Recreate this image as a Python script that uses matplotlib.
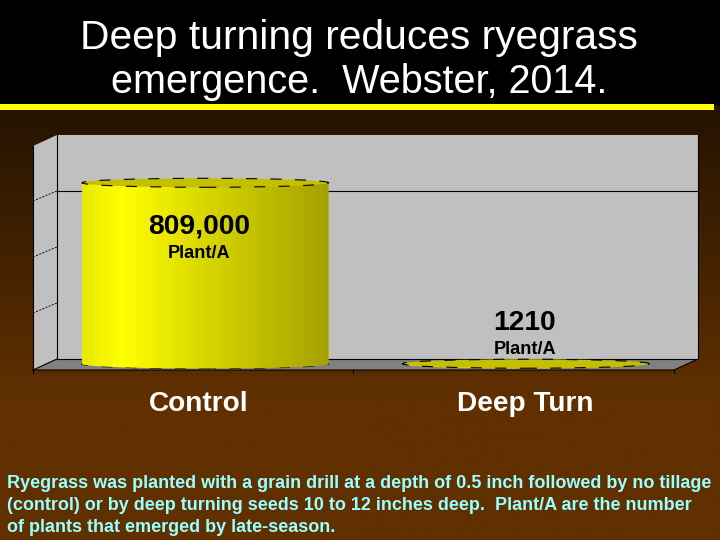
import numpy as np
import matplotlib
matplotlib.use("Agg")
import matplotlib.pyplot as plt
from matplotlib.patches import Ellipse, Polygon
from matplotlib.transforms import ScaledTranslation

categories = ["Control", "Deep Turn"]
plants = [809000, 1210]
value_labels = ["809,000", "1210"]
unit = "Plant/A"
y_ticks = [250000, 500000, 750000]
wall_lines = [750000]
y_max = 1000000

title = "Deep turning reduces ryegrass\nemergence.  Webster, 2014."
note = ("Ryegrass was planted with a grain drill at a depth of 0.5 inch followed by no tillage\n"
        "(control) or by deep turning seeds 10 to 12 inches deep.  Plant/A are the number\n"
        "of plants that emerged by late-season.")

W, H = 720, 540
plt.rcParams["font.family"] = ["Liberation Sans", "DejaVu Sans"]
fig = plt.figure(figsize=(7.2, 5.4), dpi=100)

# background, pixel coordinates
bg = fig.add_axes([0, 0, 1, 1])
bg.set_xlim(0, W)
bg.set_ylim(H, 0)
bg.axis("off")
top_c = np.array([0x26, 0x13, 0x00])
bot_c = np.array([0x60, 0x30, 0x00])
t = np.clip((np.linspace(0, H, 256) - 110) / 290, 0, 1)[:, None, None]
grad = (top_c[None, None, :] * (1 - t) + bot_c[None, None, :] * t) / 255
bg.imshow(grad, extent=[0, W, H, 0], aspect="auto", zorder=0)
bg.fill_between([0, W], 0, 104, color="black", zorder=1)
bg.fill_between([0, 714], 104, 110, color="#ffff00", zorder=1, lw=0)

# side wall and floor
bg.add_patch(Polygon([(33, 146), (57, 135), (57, 359), (33, 370)], fc="#c0c0c0", ec="none", zorder=2))
bg.add_patch(Polygon([(33, 370), (57, 359), (698, 359), (674, 370)], fc="#808080", ec="none", zorder=2))
bg.plot([33, 33], [370, 146], color="black", lw=0.8, zorder=3)
bg.plot([33, 57], [370, 359], color="black", lw=0.8, zorder=3)
bg.plot([33, 674, 698], [370, 370, 359], color="black", lw=0.8, zorder=3)
bg.plot([33, 33], [370, 373], color="black", lw=0.8, zorder=3)
bg.plot([353, 353], [370, 373], color="black", lw=0.8, zorder=3)
bg.plot([674, 674], [370, 373], color="black", lw=0.8, zorder=3)

# chart axes sits on the back wall
ax = fig.add_axes([57 / W, 1 - 359 / H, 641 / W, 224 / H])
ax.set_xlim(0, 2)
ax.set_ylim(0, y_max)
ax.set_facecolor("#c0c0c0")
ax.set_xticks([])
ax.set_yticks([])
ax.spines["top"].set_visible(False)
for s in ax.spines.values():
    s.set_linewidth(0.8)
for v in wall_lines:
    ax.axhline(v, color="black", lw=0.8, zorder=1)
for v in y_ticks:
    py = 359 - v / y_max * 224
    bg.plot([33, 57], [py + 10, py], color="black", lw=0.7, ls=(0, (2, 1.5)), zorder=3)

# cylinders, shifted to the middle of the floor depth
shift = ax.transData + ScaledTranslation(-12 / 100, -5 / 100, fig.dpi_scale_trans)
bar_w = 0.77
ell_h = 9 / 224 * y_max
stops_x = [0, 0.16, 0.5, 1]
stops_c = np.array([[0xe8, 0xe8, 0x00], [0xff, 0xff, 0x00], [0xd8, 0xd6, 0x00], [0xa4, 0xa0, 0x00]])
n = 40
for i, (cat, val) in enumerate(zip(categories, plants)):
    c = i + 0.5
    a = np.linspace(0, np.pi, 40)
    xs = c + bar_w / 2 * np.cos(a)
    low = -ell_h / 2 * np.sin(a)
    outline = list(zip(xs[::-1], low[::-1])) + [(c + bar_w / 2, val), (c - bar_w / 2, val)]
    clip = Polygon(outline, transform=shift)
    edges = np.linspace(c - bar_w / 2, c + bar_w / 2, n + 1)
    for j in range(n):
        f = (j + 0.5) / n
        col = [np.interp(f, stops_x, stops_c[:, k]) / 255 for k in range(3)]
        r = ax.bar(edges[j], val + ell_h, width=edges[j + 1] - edges[j] + 0.001, bottom=-ell_h, align="edge",
                   color=col, lw=0, transform=shift, zorder=3)
        r[0].set_clip_path(clip)
        r[0].set_clip_box(None)
    # dashed rim
    ax.add_patch(Ellipse((c, val), bar_w, ell_h, fc="#c4c000", ec="black", lw=0.8, ls=(0, (10, 12)),
                         transform=shift, zorder=4, clip_on=False))
    if val > ell_h:
        ax.add_patch(Ellipse((c, 0), bar_w, ell_h, fc="none", ec="black", lw=0.8, ls=(0, (10, 12)),
                             transform=shift, zorder=2.9, clip_on=False))

# labels
top = fig.add_axes([0, 0, 1, 1])
top.set_xlim(0, W)
top.set_ylim(H, 0)
top.axis("off")
top.text(359, 38, title.split("\n")[0], color="white", fontsize=29.3, ha="center", va="center")
top.text(359, 82, title.split("\n")[1], color="white", fontsize=28.5, ha="center", va="center")
label_x = [199, 525]
label_y = [227, 323]
unit_y = [254, 350]
for x, y, uy, lab, cat in zip(label_x, label_y, unit_y, value_labels, categories):
    top.text(x, y, lab, color="black", fontsize=20.3, fontweight="bold", ha="center", va="center")
    top.text(x, uy, unit, color="black", fontsize=13.1, fontweight="bold", ha="center", va="center")
    top.text(x, 404, cat, color="white", fontsize=20.2, fontweight="bold", ha="center", va="center")
for y, line in zip([484, 506, 528], note.split("\n")):
    top.text(7, y, line, color="#99ffff", fontsize=12.93, fontweight="bold", ha="left", va="center")

fig.savefig("out.png", dpi=100)
